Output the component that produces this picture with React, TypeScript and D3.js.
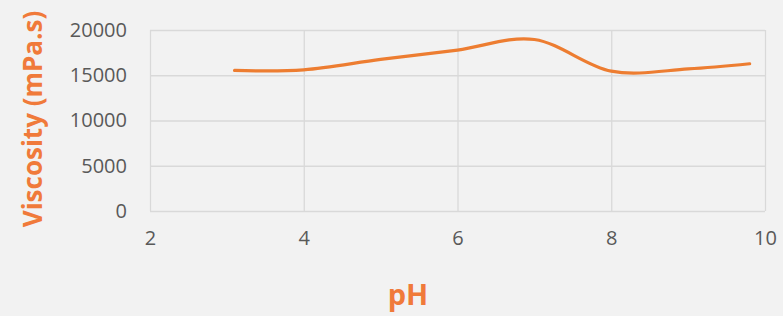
import React, { useEffect, useRef } from "react";
import * as d3 from "d3";

const WIDTH = 783;
const HEIGHT = 316;
const MARGIN = { LEFT: 150, RIGHT: 18, TOP: 30, BOTTOM: 105 };

const phValues = [3.1, 4, 5, 6, 7, 8, 9, 9.8];
const viscosityValues = [15530, 15600, 16750, 17780, 18950, 15450, 15700, 16270];
const xTicks = [2, 4, 6, 8, 10];
const yTicks = [0, 5000, 10000, 15000, 20000];

const ORANGE = "#ED7D31";
const TITLE_ORANGE = "#F07A3A";
const GRID = "#D9D9D9";
const LABEL = "#595959";
const FONT = "'Open Sans', sans-serif";

const App = () => {
  const svgRef = useRef<SVGSVGElement>(null);

  useEffect(() => {
    const svg = d3.select(svgRef.current);
    svg.selectAll("*").remove();

    const data = phValues.map((ph, i) => ({ ph, v: viscosityValues[i] }));

    const xScale = d3
      .scaleLinear()
      .domain([2, 10])
      .range([MARGIN.LEFT, WIDTH - MARGIN.RIGHT]);
    const yScale = d3
      .scaleLinear()
      .domain([0, 20000])
      .range([HEIGHT - MARGIN.BOTTOM, MARGIN.TOP]);

    svg
      .append("rect")
      .attr("width", WIDTH)
      .attr("height", HEIGHT)
      .attr("fill", "#F2F2F2");

    // gridlines
    const yGrid = d3
      .axisLeft(yScale)
      .tickValues(yTicks)
      .tickFormat(() => "")
      .tickSize(-(WIDTH - MARGIN.RIGHT - MARGIN.LEFT));
    svg
      .append("g")
      .attr("transform", `translate(${MARGIN.LEFT},0)`)
      .call(yGrid)
      .call((g) => g.select(".domain").remove())
      .call((g) => g.selectAll("line").attr("stroke", GRID).attr("stroke-width", 1.3));

    const xGrid = d3
      .axisBottom(xScale)
      .tickValues(xTicks)
      .tickFormat(() => "")
      .tickSize(-(HEIGHT - MARGIN.BOTTOM - MARGIN.TOP));
    svg
      .append("g")
      .attr("transform", `translate(0,${HEIGHT - MARGIN.BOTTOM})`)
      .call(xGrid)
      .call((g) => g.select(".domain").remove())
      .call((g) => g.selectAll("line").attr("stroke", GRID).attr("stroke-width", 1.3));

    // tick labels
    const yAxis = d3
      .axisLeft(yScale)
      .tickValues(yTicks)
      .tickFormat(d3.format("d"))
      .tickSize(0)
      .tickPadding(23);
    svg
      .append("g")
      .attr("transform", `translate(${MARGIN.LEFT},0)`)
      .call(yAxis)
      .call((g) => g.select(".domain").remove())
      .call((g) =>
        g
          .selectAll("text")
          .attr("fill", LABEL)
          .attr("font-family", FONT)
          .attr("font-size", 20)
      );

    const xAxis = d3
      .axisBottom(xScale)
      .tickValues(xTicks)
      .tickFormat(d3.format("d"))
      .tickSize(0)
      .tickPadding(20);
    svg
      .append("g")
      .attr("transform", `translate(0,${HEIGHT - MARGIN.BOTTOM})`)
      .call(xAxis)
      .call((g) => g.select(".domain").remove())
      .call((g) =>
        g
          .selectAll("text")
          .attr("fill", LABEL)
          .attr("font-family", FONT)
          .attr("font-size", 20)
      );

    // smoothed line
    const line = d3
      .line<{ ph: number; v: number }>()
      .x((d) => xScale(d.ph))
      .y((d) => yScale(d.v))
      .curve(d3.curveCardinal.tension(0));
    svg
      .append("path")
      .datum(data)
      .attr("d", line)
      .attr("fill", "none")
      .attr("stroke", ORANGE)
      .attr("stroke-width", 3.2)
      .attr("stroke-linecap", "round");

    // axis titles
    svg
      .append("text")
      .attr("transform", `translate(42,119) rotate(-90)`)
      .attr("text-anchor", "middle")
      .attr("font-family", FONT)
      .attr("font-weight", "bold")
      .attr("font-size", 26)
      .attr("fill", TITLE_ORANGE)
      .text("Viscosity (mPa.s)");

    svg
      .append("text")
      .attr("x", 408)
      .attr("y", 305)
      .attr("text-anchor", "middle")
      .attr("font-family", FONT)
      .attr("font-weight", "bold")
      .attr("font-size", 29)
      .attr("fill", TITLE_ORANGE)
      .text("pH");
  }, []);

  return (
    <svg
      ref={svgRef}
      width={WIDTH}
      height={HEIGHT}
      style={{ position: "absolute", left: 0, top: 0, display: "block" }}
    ></svg>
  );
};

export default App;
